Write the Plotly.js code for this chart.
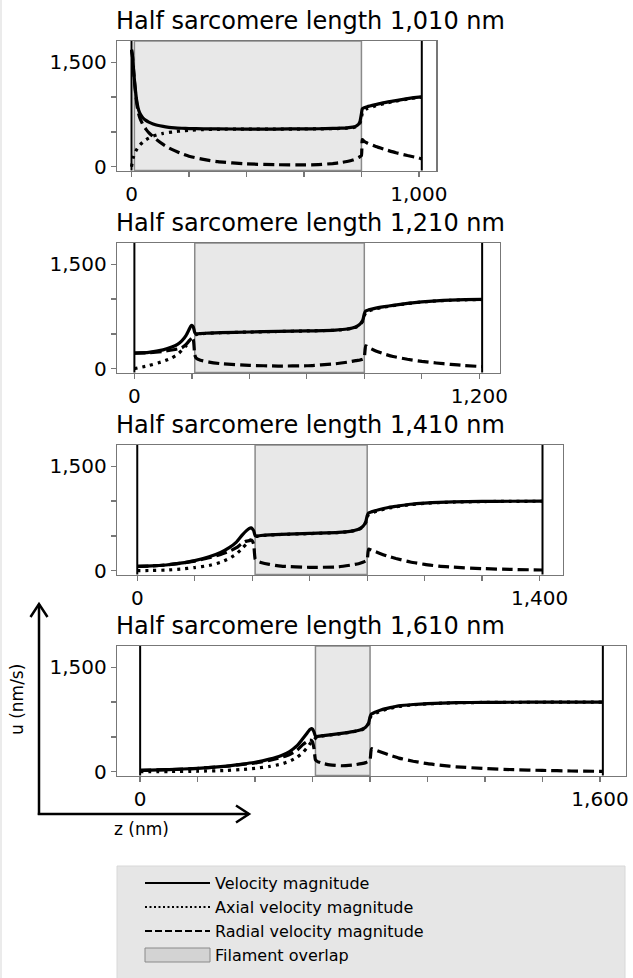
<!DOCTYPE html>
<html><head><meta charset="utf-8">
<script src="https://cdn.plot.ly/plotly-3.0.1.min.js"></script>
<style>html,body{margin:0;padding:0;background:#fff;}#chart{width:633px;height:978px;}</style>
</head><body><div id="chart"></div>
<script>
// ---------- data ----------
const halfLengths = [1010, 1210, 1410, 1610];
const panelTitles = ["Half sarcomere length 1,010 nm", "Half sarcomere length 1,210 nm",
                     "Half sarcomere length 1,410 nm", "Half sarcomere length 1,610 nm"];
const overlapStart = [10, 210, 410, 610];
const overlapEnd = [800, 800, 800, 800];

const yTickVals = [0, 500, 1000, 1500];
const yTickText = ["0", "", "", "1,500"];
const xTickVals1 = [0, 200, 400, 600, 800, 1000];
const xTickText1 = ["0", "", "", "", "", "1,000"];
const xTickVals2 = [0, 200, 400, 600, 800, 1000, 1200];
const xTickText2 = ["0", "", "", "", "", "", "1,200"];
const xTickVals3 = [0, 200, 400, 600, 800, 1000, 1200, 1400];
const xTickText3 = ["0", "", "", "", "", "", "", "1,400"];
const xTickVals4 = [0, 200, 400, 600, 800, 1000, 1200, 1400, 1600];
const xTickText4 = ["0", "", "", "", "", "", "", "", "1,600"];

// Panel 1 (1,010 nm)
const z1 = [0, 3, 6, 10, 15, 20, 25, 30, 40, 50, 60, 75, 90, 110, 130, 150, 175, 200, 250, 300, 400, 500, 600, 650, 700, 730, 750, 770, 780, 790, 795, 800, 803, 808, 820, 850, 880, 920, 960, 1000, 1010];
const vel1 = [1680, 1600, 1450, 1250, 1050, 900, 810, 760, 700, 665, 640, 615, 595, 578, 566, 558, 552, 548, 544, 542, 541, 541, 543, 545, 549, 553, 558, 568, 580, 610, 650, 760, 830, 845, 862, 892, 920, 950, 978, 1000, 1003];
const axial1 = [0, 70, 130, 180, 225, 260, 290, 315, 355, 385, 410, 438, 458, 478, 492, 503, 514, 522, 532, 537, 540, 540, 541, 543, 546, 550, 554, 562, 572, 595, 625, 700, 770, 800, 835, 875, 908, 942, 972, 995, 998];
const radial1 = [1680, 1598, 1440, 1235, 1025, 860, 755, 690, 600, 540, 490, 432, 380, 320, 270, 230, 185, 150, 105, 72, 40, 28, 25, 30, 45, 60, 75, 95, 110, 130, 145, 160, 390, 370, 340, 290, 250, 200, 160, 125, 110];

// Panel 2 (1,210 nm)
const z2 = [0, 50, 100, 130, 150, 165, 180, 190, 196, 200, 205, 210, 215, 230, 260, 300, 400, 500, 600, 700, 740, 770, 785, 795, 800, 805, 815, 840, 870, 900, 950, 1000, 1050, 1100, 1150, 1210];
const vel2 = [222, 235, 270, 310, 350, 400, 480, 560, 610, 622, 600, 520, 500, 505, 512, 518, 527, 535, 543, 555, 570, 600, 640, 700, 790, 830, 845, 870, 892, 910, 938, 960, 975, 985, 992, 995];
const axial2 = [0, 45, 105, 155, 205, 262, 330, 395, 425, 440, 455, 480, 492, 500, 510, 516, 526, 534, 542, 553, 567, 595, 630, 685, 760, 800, 830, 860, 885, 905, 935, 958, 973, 983, 990, 993];
const radial2 = [222, 230, 248, 268, 283, 300, 348, 397, 437, 440, 420, 200, 150, 122, 95, 72, 48, 38, 42, 70, 92, 115, 125, 135, 160, 330, 305, 255, 210, 175, 135, 105, 82, 62, 45, 30];

// Panel 3 (1,410 nm)
const z3 = [0, 50, 100, 150, 200, 250, 290, 320, 345, 365, 380, 390, 396, 400, 405, 410, 415, 430, 460, 500, 600, 700, 740, 770, 785, 795, 800, 805, 815, 840, 870, 900, 950, 1000, 1050, 1100, 1200, 1300, 1410];
const vel3 = [61, 68, 82, 108, 145, 200, 262, 330, 410, 510, 575, 608, 615, 605, 575, 505, 498, 505, 515, 522, 535, 550, 565, 595, 635, 700, 790, 830, 845, 875, 905, 925, 955, 972, 982, 988, 995, 998, 1000];
const axial3 = [0, 3, 8, 22, 45, 75, 120, 175, 240, 320, 385, 430, 450, 465, 478, 490, 494, 502, 512, 520, 533, 548, 562, 590, 628, 690, 770, 805, 830, 862, 895, 918, 950, 968, 979, 986, 993, 996, 998];
const radial3 = [61, 68, 82, 105, 138, 185, 232, 278, 330, 395, 425, 430, 440, 430, 380, 170, 140, 118, 90, 65, 48, 55, 78, 100, 120, 140, 155, 310, 295, 255, 210, 175, 125, 90, 65, 50, 30, 18, 10];

// Panel 4 (1,610 nm)
const z4 = [0, 100, 200, 300, 350, 400, 450, 490, 520, 545, 565, 580, 590, 596, 600, 605, 610, 615, 630, 660, 700, 740, 770, 785, 795, 800, 805, 815, 840, 870, 900, 950, 1000, 1050, 1100, 1200, 1300, 1400, 1500, 1610];
const vel4 = [20, 30, 48, 80, 105, 135, 180, 230, 290, 370, 470, 548, 605, 620, 612, 570, 510, 505, 515, 530, 550, 575, 605, 640, 700, 790, 830, 850, 890, 920, 945, 965, 978, 986, 991, 996, 998, 999, 1000, 1000];
const axial4 = [0, 2, 6, 18, 30, 48, 75, 108, 150, 205, 270, 340, 395, 425, 440, 460, 480, 495, 510, 527, 547, 572, 600, 632, 690, 770, 805, 830, 875, 910, 937, 960, 975, 984, 990, 995, 997, 998, 999, 999];
const radial4 = [20, 30, 47, 78, 101, 126, 163, 203, 248, 305, 385, 430, 455, 450, 425, 330, 170, 150, 125, 98, 85, 95, 115, 130, 150, 170, 330, 318, 280, 235, 195, 150, 115, 90, 70, 45, 28, 18, 10, 5];

const seriesNames = ["Velocity magnitude", "Axial velocity magnitude", "Radial velocity magnitude", "Filament overlap"];

// ---------- layout geometry ----------
const W = 633, H = 978;
const pxPerUnit = 0.2874;
const frameLeft = 117;
const frameTops = [41, 243, 445, 646];
const frameH = 129.5;
const yRange = [-55, 1806];
const px = x => x / W;
const py = y => 1 - y / H;

const zs = [z1, z2, z3, z4];
const vels = [vel1, vel2, vel3, vel4];
const axials = [axial1, axial2, axial3, axial4];
const radials = [radial1, radial2, radial3, radial4];
const xTV = [xTickVals1, xTickVals2, xTickVals3, xTickVals4];
const xTT = [xTickText1, xTickText2, xTickText3, xTickText4];

const traces = [];
const shapes = [];
const annotations = [];
const layout = {
  width: W, height: H,
  margin: {l: 0, r: 0, t: 0, b: 0},
  paper_bgcolor: "#ffffff",
  plot_bgcolor: "rgba(0,0,0,0)",
  showlegend: false,
  font: {family: "DejaVu Sans", color: "#000"}
};

const lineStyle = [
  {color: "#000", width: 3.2, dash: "solid"},
  {color: "#000", width: 3.2, dash: "3px,5px"},
  {color: "#000", width: 3.2, dash: "11px,5px"}
];

for (let i = 0; i < 4; i++) {
  const L = halfLengths[i];
  const sfx = i === 0 ? "" : String(i + 1);
  const xa = "x" + sfx, ya = "y" + sfx;
  const wpx = 1.1 * L * pxPerUnit;
  layout["xaxis" + sfx] = {
    domain: [px(frameLeft), px(frameLeft + wpx)],
    range: [-0.05 * L, 1.05 * L],
    anchor: ya,
    showgrid: false, zeroline: false,
    showline: true, mirror: true, linecolor: "#777", linewidth: 1.3,
    ticks: "outside", ticklen: 5, tickcolor: "#777", tickwidth: 1.3,
    tickmode: "array", tickvals: xTV[i], ticktext: xTT[i],
    tickfont: {size: 20, family: "DejaVu Sans", color: "#000"},
    fixedrange: true
  };
  layout["yaxis" + sfx] = {
    domain: [py(frameTops[i] + frameH), py(frameTops[i])],
    range: yRange,
    anchor: xa,
    showgrid: false, zeroline: false,
    showline: true, mirror: true, linecolor: "#777", linewidth: 1.3,
    ticks: "outside", ticklen: 5, tickcolor: "#777", tickwidth: 1.3,
    tickmode: "array", tickvals: yTickVals, ticktext: yTickText,
    tickfont: {size: 20, family: "DejaVu Sans", color: "#000"},
    fixedrange: true
  };
  const ys = [vels[i], axials[i], radials[i]];
  for (let s = 0; s < 3; s++) {
    traces.push({
      type: "scatter", mode: "lines", x: zs[i], y: ys[s],
      xaxis: xa, yaxis: ya, name: seriesNames[s],
      line: Object.assign({shape: "spline", smoothing: 0.5}, lineStyle[s]),
      hoverinfo: "skip"
    });
  }
  // filament overlap
  shapes.push({type: "rect", layer: "below", xref: xa, yref: ya + " domain",
    x0: overlapStart[i], x1: overlapEnd[i], y0: 0, y1: 1,
    fillcolor: "#e8e8e8", line: {color: "#8a8a8a", width: 1.5}});
  // boundaries
  [0, L].forEach(v => shapes.push({type: "line", xref: xa, yref: ya + " domain",
    x0: v, x1: v, y0: 0, y1: 1, line: {color: "#000", width: 2}}));
  annotations.push({xref: "paper", yref: "paper", x: px(frameLeft - 3), y: py(frameTops[i] - 20),
    xanchor: "left", yanchor: "middle", showarrow: false, text: panelTitles[i],
    font: {size: 24, family: "DejaVu Sans", color: "#000"}});
}

// left strip
shapes.push({type: "rect", xref: "paper", yref: "paper", x0: 0, x1: px(2), y0: 0, y1: 1,
  fillcolor: "#ebebeb", line: {width: 0}, layer: "below"});

// axes arrows
const ax0x = 39, ax0y = 815;
shapes.push({type: "path", xref: "paper", yref: "paper",
  path: `M${px(ax0x)},${py(ax0y)} L${px(ax0x)},${py(604)}`, line: {color: "#000", width: 2.5}});
shapes.push({type: "path", xref: "paper", yref: "paper",
  path: `M${px(ax0x - 8.5)},${py(617)} L${px(ax0x)},${py(604)} L${px(ax0x + 8.5)},${py(617)}`,
  line: {color: "#000", width: 2.5}});
shapes.push({type: "path", xref: "paper", yref: "paper",
  path: `M${px(ax0x - 1.2)},${py(814)} L${px(249)},${py(814)}`, line: {color: "#000", width: 2.5}});
shapes.push({type: "path", xref: "paper", yref: "paper",
  path: `M${px(236)},${py(805.5)} L${px(249)},${py(814)} L${px(236)},${py(822.5)}`,
  line: {color: "#000", width: 2.5}});
annotations.push({xref: "paper", yref: "paper", x: px(17), y: py(700), textangle: -90,
  showarrow: false, text: "u (nm/s)", xanchor: "center", yanchor: "middle",
  font: {size: 17, family: "DejaVu Sans", color: "#000"}});
annotations.push({xref: "paper", yref: "paper", x: px(141), y: py(829),
  showarrow: false, text: "z (nm)", xanchor: "center", yanchor: "middle",
  font: {size: 17, family: "DejaVu Sans", color: "#000"}});

// legend
shapes.push({type: "rect", xref: "paper", yref: "paper", x0: px(117), x1: px(625), y0: py(990), y1: py(866),
  fillcolor: "#e6e6e6", line: {color: "#d8d8d8", width: 1}});
const legY = [883, 907, 931, 955];
const legDash = ["solid", "2px,2.5px", "7px,3px"];
for (let s = 0; s < 3; s++) {
  shapes.push({type: "line", xref: "paper", yref: "paper", x0: px(145), x1: px(210),
    y0: py(legY[s]), y1: py(legY[s]), line: {color: "#000", width: 2, dash: legDash[s]}});
}
shapes.push({type: "rect", xref: "paper", yref: "paper", x0: px(145), x1: px(210),
  y0: py(962), y1: py(948), fillcolor: "#d3d3d3", line: {color: "#8a8a8a", width: 1}});
for (let s = 0; s < 4; s++) {
  annotations.push({xref: "paper", yref: "paper", x: px(213), y: py(legY[s]),
    xanchor: "left", yanchor: "middle", showarrow: false, text: seriesNames[s],
    font: {size: 16, family: "DejaVu Sans", color: "#000"}});
}

layout.shapes = shapes;
layout.annotations = annotations;
Plotly.newPlot("chart", traces, layout, {staticPlot: true, displayModeBar: false});
</script>
</body></html>
